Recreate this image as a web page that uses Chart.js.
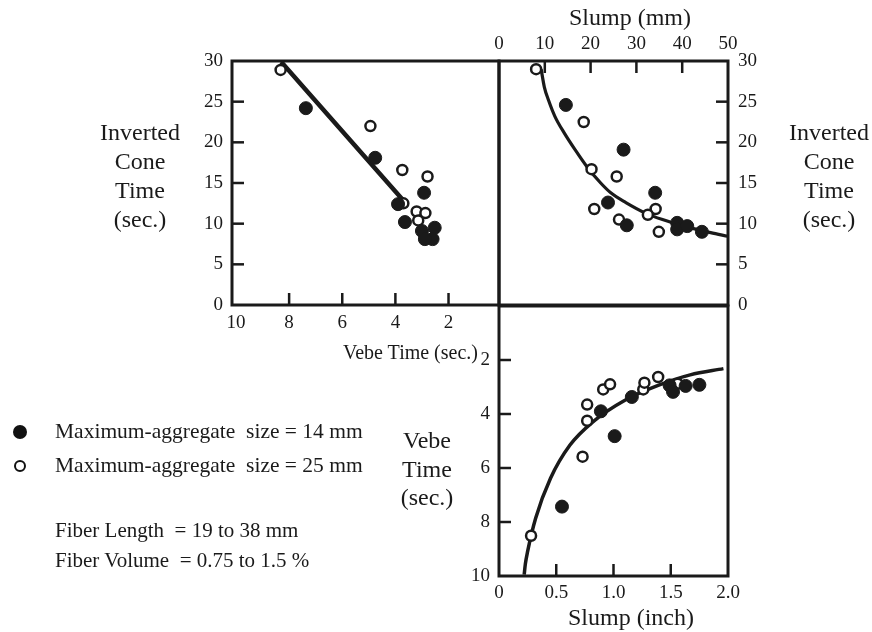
<!DOCTYPE html>
<html>
<head>
<meta charset="utf-8">
<script src="https://cdn.jsdelivr.net/npm/chart.js@4"></script>
<style>
  body { margin: 0; background: #fff; font-family: 'Liberation Serif', 'Times New Roman', serif; color: #1a1a1a; }
  #wrap { position: relative; width: 872px; height: 632px; overflow: hidden; }
  canvas { position: absolute; left: 0; top: 0; }
  .t { position: absolute; white-space: pre; line-height: 1; }
  .stack { position: absolute; text-align: center; font-size: 24px; line-height: 29px; width: 130px; }
  .dot { position: absolute; border-radius: 50%; box-sizing: border-box; }
</style>
</head>
<body>
<div id="wrap">
  <canvas id="c1" width="872" height="632"></canvas>
  <canvas id="c2" width="872" height="632"></canvas>
  <canvas id="c3" width="872" height="632"></canvas>

  <div class="stack" style="left:75px; top:118px;">Inverted<br>Cone<br>Time<br>(sec.)</div>
  <div class="stack" style="left:764px; top:118px;">Inverted<br>Cone<br>Time<br>(sec.)</div>
  <div class="stack" style="left:362px; top:426px; line-height:28.5px;">Vebe<br>Time<br>(sec.)</div>
  <div class="t" style="left:343px; top:342px; font-size:20px;">Vebe Time (sec.)</div>
  <div class="t" style="left:569px; top:5px; font-size:24px;">Slump (mm)</div>
  <div class="t" style="left:568px; top:605px; font-size:24px;">Slump (inch)</div>

  <div class="dot" style="left:13px; top:425px; width:14px; height:14px; background:#111;"></div>
  <div class="dot" style="left:14px; top:460px; width:12px; height:12px; border:2.5px solid #111; background:#fff;"></div>
  <div class="t" style="left:55px; top:421px; font-size:21.5px;">Maximum-aggregate  size = 14 mm</div>
  <div class="t" style="left:55px; top:455px; font-size:21.5px;">Maximum-aggregate  size = 25 mm</div>
  <div class="t" style="left:55px; top:520px; font-size:21px;">Fiber Length  = 19 to 38 mm</div>
  <div class="t" style="left:55px; top:550px; font-size:21px;">Fiber Volume  = 0.75 to 1.5 %</div>
</div>

<script>
// tick labels
const coneTicks = [0, 5, 10, 15, 20, 25, 30];
const vebeTicks = [2, 4, 6, 8, 10];
const slumpMmTicks = [0, 10, 20, 30, 40, 50];
const slumpInchTicks = [0, 0.5, 1.0, 1.5, 2.0];

// panel 1: Vebe time vs inverted cone time
const vebe14 = [7.37, 4.76, 2.92, 3.90, 3.64, 3.00, 2.52, 2.60, 2.89];
const cone14 = [24.2, 18.1, 13.8, 12.4, 10.2, 9.1, 9.5, 8.1, 8.1];
const vebe25 = [8.32, 4.94, 3.74, 2.79, 3.70, 3.20, 2.87, 3.14];
const cone25 = [28.9, 22.0, 16.6, 15.8, 12.5, 11.5, 11.3, 10.4];
const fitVebe = [8.30, 3.55];
const fitCone = [29.9, 12.3];

// panel 2: slump (mm) vs inverted cone time
const slumpMm14 = [14.6, 27.2, 34.1, 23.8, 27.9, 38.9, 38.9, 41.1, 44.3];
const coneS14 = [24.6, 19.1, 13.8, 12.6, 9.8, 10.1, 9.3, 9.7, 9.0];
const slumpMm25 = [8.1, 18.5, 20.2, 25.7, 20.8, 34.2, 32.5, 26.2, 34.9];
const coneS25 = [29.0, 22.5, 16.7, 15.8, 11.8, 11.8, 11.1, 10.5, 9.0];
const curveSlumpMm = [9.2, 9.9, 10.8, 12.2, 14.3, 16.6, 19.2, 22.2, 24.4, 27.7, 32.0, 35.7, 40.4, 46.2, 50];
const curveCone = [29.0, 26.8, 25.2, 23.2, 21.1, 19.1, 17.0, 15.0, 13.8, 12.6, 11.3, 10.5, 9.7, 8.9, 8.45];

// panel 3: slump (inch) vs Vebe time
const slumpIn14 = [0.55, 1.01, 0.89, 1.16, 1.49, 1.52, 1.63, 1.75];
const vebeS14 = [7.43, 4.82, 3.90, 3.37, 2.94, 3.18, 2.96, 2.92];
const slumpIn25 = [0.28, 0.73, 0.77, 0.77, 0.91, 0.97, 1.26, 1.27, 1.39, 1.56];
const vebeS25 = [8.51, 5.58, 4.25, 3.65, 3.09, 2.90, 3.09, 2.84, 2.63, 2.88];
const curveSlumpIn = [0.22, 0.23, 0.25, 0.32, 0.45, 0.62, 0.82, 1.10, 1.39, 1.67, 1.96];
const curveVebe = [9.95, 9.56, 9.09, 7.86, 6.38, 5.15, 4.29, 3.49, 2.94, 2.55, 2.32];

const ink = '#1a1a1a';
const font = { family: "'Liberation Serif', 'Times New Roman', serif", size: 19 };

const pts = (xs, ys) => xs.map((x, i) => ({ x: x, y: ys[i] }));

const filled = (xs, ys) => ({
    data: pts(xs, ys), pointRadius: 6.5, backgroundColor: ink, borderColor: ink, borderWidth: 1, order: 0
});
const open = (xs, ys) => ({
    data: pts(xs, ys), pointRadius: 5, backgroundColor: '#fff', borderColor: ink, borderWidth: 2.5, order: 0
});
const curve = (xs, ys, w) => ({
    data: pts(xs, ys), showLine: true, pointRadius: 0, borderColor: ink, borderWidth: w,
    cubicInterpolationMode: 'monotone', order: 1
});

// ticks pointing into the plot + the frame
const innerTicks = {
    id: 'innerTicks',
    afterDraw(chart) {
        const { ctx, chartArea: a } = chart;
        ctx.save();
        ctx.strokeStyle = ink;
        ctx.lineWidth = 2.5;
        Object.values(chart.scales).forEach(s => {
            s.ticks.forEach(t => {
                const p = s.getPixelForValue(t.value);
                ctx.beginPath();
                if (s.isHorizontal()) {
                    if (p < a.left + 4 || p > a.right - 4) return;
                    const y = s.position === 'top' ? a.top : a.bottom;
                    ctx.moveTo(p, y);
                    ctx.lineTo(p, s.position === 'top' ? y + 12 : y - 12);
                } else {
                    if (p < a.top + 4 || p > a.bottom - 4) return;
                    const x = s.position === 'right' ? a.right : a.left;
                    ctx.moveTo(x, p);
                    ctx.lineTo(s.position === 'right' ? x - 12 : x + 12, p);
                }
                ctx.stroke();
            });
        });
        ctx.lineWidth = 3;
        ctx.strokeRect(a.left, a.top, a.width, a.height);
        ctx.restore();
    }
};

const axis = (position, min, max, tickList, size, pad, extra) => Object.assign({
    type: 'linear', position: position, min: min, max: max,
    grid: { display: false, drawTicks: false }, border: { display: false },
    ticks: { color: ink, font: font, padding: pad, maxRotation: 0, autoSkip: false },
    afterBuildTicks: s => { s.ticks = tickList.map(v => ({ value: v })); },
    afterFit: s => { if (s.isHorizontal()) s.height = size; else s.width = size; }
}, extra || {});

const baseOptions = (padding, scales) => ({
    responsive: false,
    animation: false,
    layout: { padding: padding },
    plugins: { legend: { display: false }, tooltip: { enabled: false } },
    scales: scales
});

new Chart(document.getElementById('c1'), {
    type: 'scatter',
    data: { datasets: [filled(vebe14, cone14), open(vebe25, cone25), curve(fitVebe, fitCone, 4.5)] },
    options: baseOptions({ left: 192, right: 373, top: 61, bottom: 297 }, {
        x: axis('bottom', 0.1, 10.15, vebeTicks, 30, 7, { reverse: true }),
        y: axis('left', 0, 30, coneTicks, 40, 9)
    }),
    plugins: [innerTicks]
});

new Chart(document.getElementById('c2'), {
    type: 'scatter',
    data: { datasets: [filled(slumpMm14, coneS14), open(slumpMm25, coneS25), curve(curveSlumpMm, curveCone, 3.2)] },
    options: baseOptions({ left: 499, right: 104, top: 31, bottom: 327 }, {
        x: axis('top', 0, 50, slumpMmTicks, 30, 6),
        y: axis('right', 0, 30, coneTicks, 40, 10)
    }),
    plugins: [innerTicks]
});

new Chart(document.getElementById('c3'), {
    type: 'scatter',
    data: { datasets: [filled(slumpIn14, vebeS14), open(slumpIn25, vebeS25), curve(curveSlumpIn, curveVebe, 3.5)] },
    options: baseOptions({ left: 459, right: 144, top: 306, bottom: 26 }, {
        x: axis('bottom', 0, 2, slumpInchTicks, 30, 6, {
            ticks: { color: ink, font: font, padding: 6, maxRotation: 0, autoSkip: false,
                callback: v => v === 0 ? '0' : v.toFixed(1) }
        }),
        y: axis('left', 0, 10, vebeTicks, 40, 9, { reverse: true })
    }),
    plugins: [innerTicks]
});
</script>
</body>
</html>
